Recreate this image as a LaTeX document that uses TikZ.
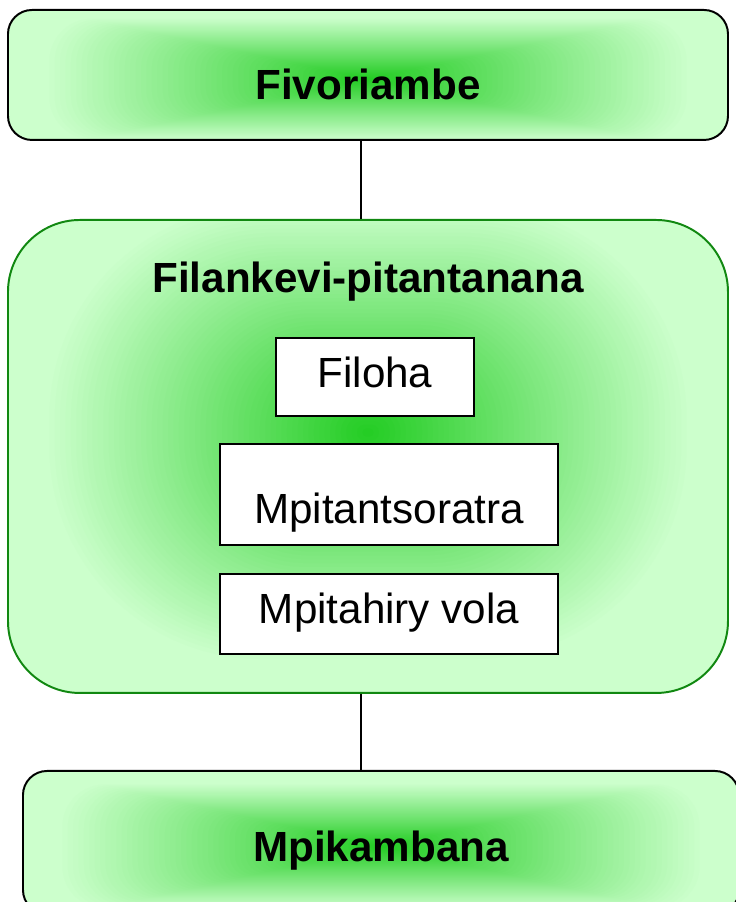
\documentclass[tikz,border=0pt]{standalone}
\usepackage{fontspec}
\setmainfont{Liberation Sans}
\usetikzlibrary{shapes, backgrounds, calc}

\definecolor{paleGreen}{HTML}{CCFFCC}
\definecolor{brightGreen}{HTML}{22CC22}
\definecolor{edgeGreen}{HTML}{118811}

\begin{document}
\begin{tikzpicture}[
	glowbox/.style={draw, line width=1.4pt, fill=paleGreen, inner sep=0pt, font=\fontsize{30}{36}\selectfont\bfseries},
	% nested boxes from pale rim to bright core
	glow/.style n args={4}{path picture={
		\coordinate (gc) at ([yshift=#3]path picture bounding box.center);
		\foreach \s in {0.9,0.885,...,0.01} {
			\pgfmathsetmacro\mix{100*(1-\s/0.9)}
			\pgfmathsetmacro\rad{\s*#4}
			\fill[brightGreen!\mix!paleGreen, rounded corners=\rad cm] ($(gc)+(-\s*#1,-\s*#2)$) rectangle ($(gc)+(\s*#1,\s*#2)$);
		}}},
	rolebox/.style={draw, fill=white, line width=1.4pt, inner sep=0pt, font=\fontsize{30}{36}\selectfont}
	]
	\useasboundingbox (0, 0) rectangle (18.375, 22.55);
	
	\node[glowbox, glow={9cm}{1.7cm}{-0.1cm}{1.2}, anchor=north west, rounded corners=0.6cm, minimum width=18cm, text height=2.25cm, text depth=1.0cm] (fivo) at (0.175, 22.325) {Fivoriambe};
	\node[glowbox, glow={9cm}{6.4cm}{0.6cm}{6.0}, draw=edgeGreen, anchor=north west, rounded corners=1.8cm, minimum width=18cm, text height=1.825cm, text depth=10cm] (filan) at (0.175, 17.075) {Filankevi-pitantanana};
	\node[glowbox, glow={9cm}{1.75cm}{-0.1cm}{1.2}, anchor=north west, rounded corners=0.6cm, minimum width=17.9cm, text height=2.275cm, text depth=1.3cm] (mpik) at (0.55, 3.3) {Mpikambana};
	
	\node[rolebox, anchor=north west, minimum width=4.95cm, text height=1.25cm, text depth=0.7cm] (filoha) at (6.875, 14.125) {Filoha};
	\node[rolebox, anchor=north west, minimum width=8.45cm, text height=2.0cm, text depth=0.525cm] (soratra) at (5.475, 11.475) {Mpitantsoratra};
	\node[rolebox, anchor=north west, minimum width=8.45cm, text height=1.25cm, text depth=0.75cm] (vola) at (5.475, 8.225) {Mpitahiry vola};
	
	\draw[line width=1pt] ([xshift=-0.175cm]fivo.south) -- ([xshift=-0.175cm]filan.north);
	\draw[line width=1pt] ([xshift=-0.175cm]filan.south) -- ([xshift=-0.175cm]filan.south |- mpik.north);
\end{tikzpicture}
\end{document}
